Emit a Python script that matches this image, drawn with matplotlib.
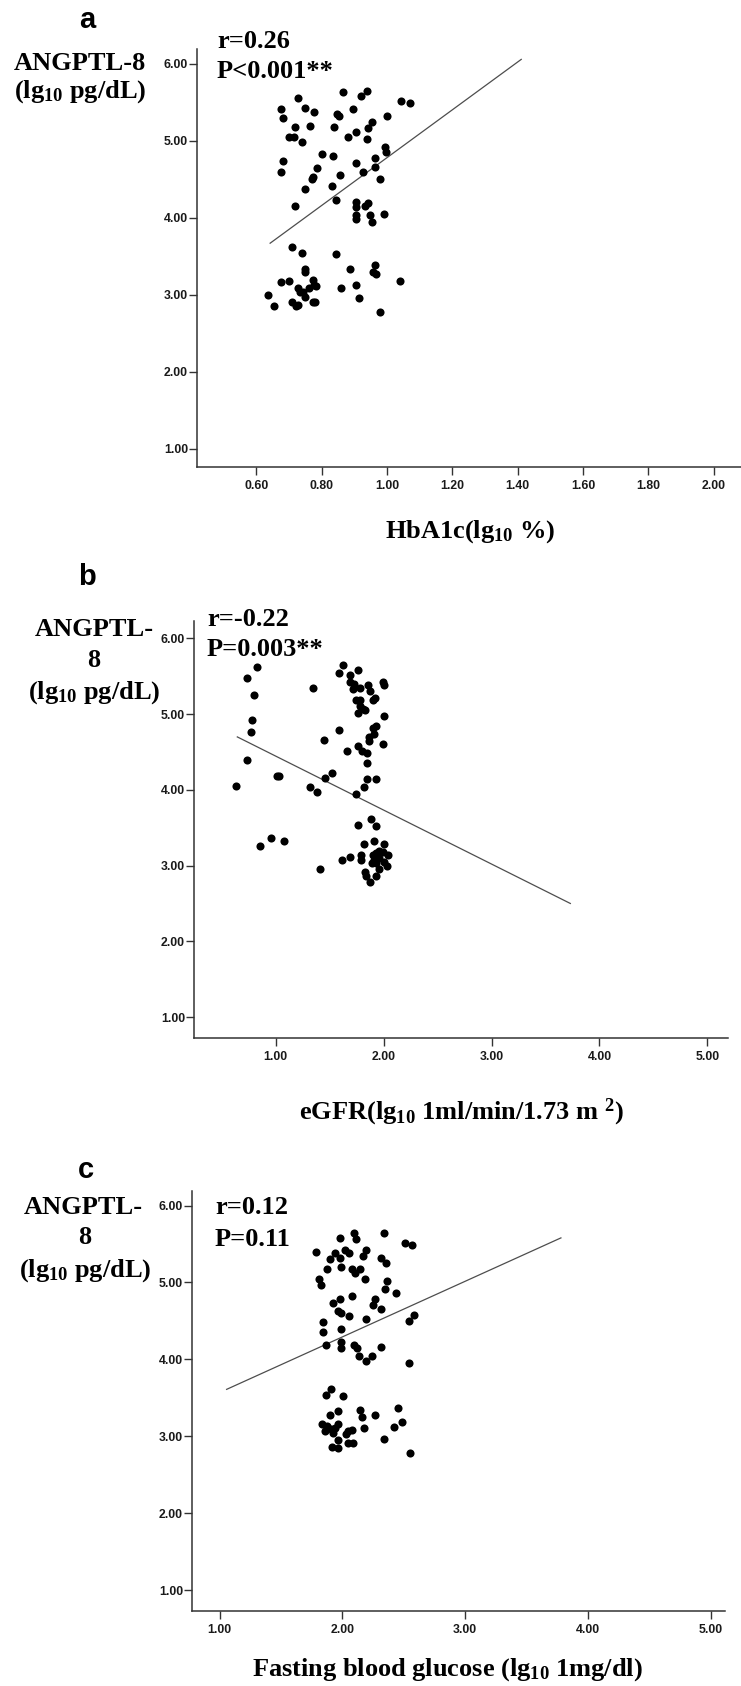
import matplotlib
matplotlib.use("Agg")
import matplotlib.pyplot as plt

# ---- data ----
hba1c_x = [0.864, 0.938, 0.726, 0.919, 1.042, 1.070, 0.674, 0.750, 0.776, 0.682,
           0.847, 0.853, 0.897, 0.999, 0.717, 0.765, 0.838, 0.955, 0.943, 0.904,
           0.700, 0.715, 0.741, 0.881, 0.939, 0.994, 0.998, 0.800, 0.834, 0.682,
           0.964, 0.904, 0.786, 0.962, 0.674, 0.925, 0.857, 0.772, 0.770, 0.977,
           0.832, 0.750, 0.845, 0.718, 0.904, 0.904, 0.941, 0.932, 0.904, 0.904,
           0.949, 0.991, 0.954, 0.708, 0.741, 0.845, 0.750, 0.750, 0.887, 0.964,
           0.958, 0.967, 1.040, 0.674, 0.700, 0.772, 0.726, 0.733, 0.760, 0.783,
           0.775, 0.858, 0.904, 0.750, 0.636, 0.710, 0.653, 0.720, 0.772, 0.779,
           0.913, 0.977, 0.728, 0.743]
hba1c_y = [5.63, 5.65, 5.56, 5.58, 5.52, 5.49, 5.41, 5.43, 5.38, 5.30,
           5.35, 5.32, 5.42, 5.33, 5.18, 5.20, 5.18, 5.25, 5.17, 5.11,
           5.05, 5.05, 4.98, 5.05, 5.02, 4.92, 4.86, 4.83, 4.80, 4.74,
           4.78, 4.71, 4.65, 4.66, 4.60, 4.59, 4.56, 4.53, 4.50, 4.51,
           4.41, 4.37, 4.23, 4.16, 4.20, 4.14, 4.19, 4.16, 4.04, 3.98,
           4.04, 4.05, 3.95, 3.62, 3.54, 3.53, 3.33, 3.29, 3.33, 3.38,
           3.29, 3.27, 3.18, 3.16, 3.18, 3.19, 3.09, 3.04, 3.09, 3.11,
           3.13, 3.09, 3.12, 2.97, 3.00, 2.91, 2.85, 2.85, 2.91, 2.91,
           2.96, 2.78, 2.86, 3.04]

egfr_x = [0.825, 0.734, 0.800, 0.786, 0.769, 0.734, 0.633, 1.013, 1.035, 1.345,
          1.445, 1.524, 1.454, 1.319, 1.380, 0.956, 0.856, 1.074, 1.415, 1.624,
          1.585, 1.764, 1.694, 1.694, 1.729, 1.720, 1.786, 1.860, 1.873, 1.991,
          2.004, 1.742, 1.782, 1.900, 1.921, 1.782, 1.808, 1.760, 1.825, 2.009,
          1.585, 1.904, 1.934, 1.913, 1.865, 1.869, 1.991, 1.659, 1.764, 1.803,
          1.847, 1.843, 1.843, 1.926, 1.817, 1.742, 1.882, 1.760, 1.934, 1.908,
          1.817, 2.009, 1.686, 1.620, 1.795, 1.795, 1.900, 1.934, 1.956, 1.991,
          2.044, 1.913, 1.956, 2.009, 2.031, 1.934, 1.825, 1.838, 1.956, 1.934,
          1.873, 1.891]
egfr_y = [5.63, 5.48, 5.25, 4.92, 4.77, 4.40, 4.05, 4.19, 4.19, 5.34,
          4.66, 4.22, 4.16, 4.04, 3.97, 3.36, 3.26, 3.32, 2.95, 5.65,
          5.55, 5.58, 5.52, 5.42, 5.40, 5.33, 5.34, 5.38, 5.30, 5.42,
          5.39, 5.19, 5.19, 5.19, 5.21, 5.11, 5.07, 5.02, 5.05, 4.98,
          4.79, 4.82, 4.85, 4.74, 4.70, 4.64, 4.60, 4.52, 4.58, 4.52,
          4.49, 4.36, 4.15, 4.15, 4.04, 3.94, 3.62, 3.53, 3.52, 3.33,
          3.28, 3.28, 3.12, 3.08, 3.14, 3.08, 3.14, 3.17, 3.19, 3.18,
          3.14, 3.07, 3.10, 3.05, 3.00, 3.03, 2.91, 2.86, 2.95, 2.86,
          2.78, 3.03]

fbg_x = [2.096, 2.338, 1.981, 2.108, 2.512, 2.569, 1.785, 1.942, 2.019, 2.058,
         2.196, 1.981, 1.896, 2.165, 2.315, 2.354, 1.873, 1.992, 2.077, 2.142,
         2.104, 1.808, 1.827, 2.185, 2.365, 2.346, 2.435, 2.081, 1.981, 2.269,
         1.923, 2.250, 2.319, 1.962, 1.988, 2.058, 2.192, 2.581, 2.542, 1.842,
         1.842, 1.992, 1.869, 1.988, 1.988, 2.096, 2.123, 2.315, 2.135, 2.242,
         2.192, 2.546, 1.904, 1.869, 2.008, 1.965, 1.896, 2.142, 2.158, 2.269,
         2.450, 2.485, 2.423, 1.838, 1.858, 1.965, 1.904, 2.050, 2.077, 2.173,
         2.027, 1.923, 1.962, 2.338, 2.046, 2.088, 1.915, 1.962, 2.550, 1.877,
         1.942]
fbg_y = [5.64, 5.65, 5.58, 5.56, 5.52, 5.49, 5.40, 5.38, 5.42, 5.38,
         5.42, 5.32, 5.30, 5.34, 5.32, 5.25, 5.18, 5.20, 5.17, 5.18,
         5.12, 5.04, 4.97, 5.04, 5.02, 4.92, 4.86, 4.82, 4.79, 4.78,
         4.73, 4.71, 4.65, 4.63, 4.60, 4.56, 4.52, 4.58, 4.50, 4.49,
         4.36, 4.40, 4.19, 4.23, 4.15, 4.19, 4.15, 4.16, 4.04, 4.05,
         3.98, 3.95, 3.62, 3.54, 3.52, 3.33, 3.28, 3.34, 3.25, 3.28,
         3.37, 3.19, 3.12, 3.16, 3.07, 3.16, 3.10, 3.07, 3.08, 3.11,
         3.03, 3.04, 2.95, 2.96, 2.91, 2.91, 2.86, 2.85, 2.78, 3.13,
         3.11]

# fit lines as drawn in the figure (start / end points)
fit_a = ([0.642, 1.411], [3.67, 6.06])
fit_b = ([0.646, 3.73], [4.70, 2.50])
fit_c = ([1.058, 3.78], [3.61, 5.58])

yticks = [1.0, 2.0, 3.0, 4.0, 5.0, 6.0]
xticks_a = [0.6, 0.8, 1.0, 1.2, 1.4, 1.6, 1.8, 2.0]
xticks_bc = [1.0, 2.0, 3.0, 4.0, 5.0]

W, H = 741, 1686

plt.rcParams["font.family"] = ["Liberation Serif", "DejaVu Serif"]
plt.rcParams["mathtext.fontset"] = "custom"
plt.rcParams["mathtext.rm"] = "Liberation Serif:bold"
plt.rcParams["mathtext.it"] = "Liberation Serif:bold"
plt.rcParams["mathtext.bf"] = "Liberation Serif:bold"
plt.rcParams["mathtext.default"] = "rm"

fig = plt.figure(figsize=(W / 100, H / 100), dpi=100)


def px_text(x, y, s, **kw):
    fig.text(x / W, 1 - y / H, s, **kw)


def make_panel(box, x, y, fit, xticks, xlim, ylim):
    left, top, right, bottom = box
    ax = fig.add_axes([left / W, 1 - bottom / H, (right - left) / W, (bottom - top) / H])
    ax.scatter(x, y, s=34, color="black", linewidths=0, zorder=3)
    ax.plot(fit[0], fit[1], color="#4d4d4d", lw=0.9, zorder=2)
    ax.set_xlim(xlim)
    ax.set_ylim(ylim)
    ax.set_xticks(xticks)
    ax.set_yticks(yticks)
    ax.set_xticklabels([f"{t:.2f}" for t in xticks])
    ax.set_yticklabels([f"{t:.2f}" for t in yticks])
    for sp in ["top", "right"]:
        ax.spines[sp].set_visible(False)
    for sp in ["left", "bottom"]:
        ax.spines[sp].set_color("#333333")
        ax.spines[sp].set_linewidth(1.1)
    ax.tick_params(direction="out", length=5.5, width=1.0, color="#333333")
    ax.tick_params(axis="y", pad=1)
    ax.tick_params(axis="x", pad=4)
    for lab in ax.get_xticklabels() + ax.get_yticklabels():
        lab.set_family(["Liberation Sans Narrow", "Liberation Sans"])
        lab.set_fontweight("bold")
        lab.set_fontsize(8.8)
        lab.set_color("#1a1a1a")
    return ax


lab_kw = dict(fontsize=19, fontweight="bold", ha="center", va="center")
letter_kw = dict(fontsize=21, fontweight="bold", ha="center", va="center",
                 family=["Liberation Sans", "DejaVu Sans"])
stat_kw = dict(fontsize=19, fontweight="bold", ha="left", va="center")

# panel a
make_panel((197, 49, 741, 467), hba1c_x, hba1c_y, fit_a, xticks_a, (0.418, 2.084), (0.76, 6.195))
px_text(87, 20, "a", **letter_kw)
px_text(80, 64, "ANGPTL-8", **lab_kw)
px_text(80, 92, r"(lg$_{10}$ pg/dL)", **lab_kw)
px_text(217, 42, "r=0.26", **stat_kw)
px_text(217, 72, "P<0.001**", **stat_kw)
px_text(470, 532, r"HbA1c(lg$_{10}$ %)", **lab_kw)

# panel b
make_panel((194, 621, 728, 1038), egfr_x, egfr_y, fit_b, xticks_bc, (0.245, 5.19), (0.723, 6.231))
px_text(87, 577, "b", **letter_kw)
px_text(94, 629, "ANGPTL-", **lab_kw)
px_text(94, 660, "8", **lab_kw)
px_text(94, 693, r"(lg$_{10}$ pg/dL)", **lab_kw)
px_text(207, 620, "r=-0.22", **stat_kw)
px_text(207, 650, "P=0.003**", **stat_kw)
px_text(461, 1112, r"eGFR(lg$_{10}$ 1ml/min/1.73 m $^{2}$)", **lab_kw)

# panel c
make_panel((192, 1191, 725, 1611), fbg_x, fbg_y, fit_c, xticks_bc, (0.776, 5.116), (0.727, 6.19))
px_text(86, 1170, "c", **letter_kw)
px_text(83, 1208, "ANGPTL-", **lab_kw)
px_text(85, 1238, "8", **lab_kw)
px_text(85, 1271, r"(lg$_{10}$ pg/dL)", **lab_kw)
px_text(215, 1207, "r=0.12", **stat_kw)
px_text(215, 1239, "P=0.11", **stat_kw)
px_text(447, 1670, r"Fasting blood glucose (lg$_{10}$ 1mg/dl)", **lab_kw)

fig.savefig("out.png", dpi=100, facecolor="white")
